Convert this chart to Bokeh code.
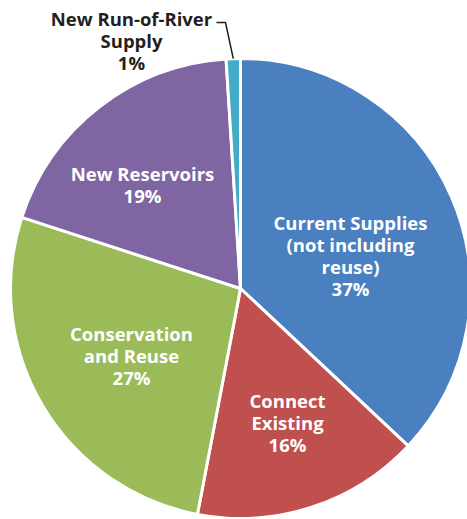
import math
from bokeh.plotting import figure
from bokeh.models import Range1d, ColumnDataSource
from bokeh.core.properties import value
from bokeh.embed import file_html
from bokeh.resources import INLINE

# ---- data ----
categories = ["Current Supplies\n(not including\nreuse)", "Connect\nExisting",
              "Conservation\nand Reuse", "New Reservoirs", "New Run-of-River\nSupply"]
percents = [37, 16, 27, 19, 1]
colors = ["#4A80C0", "#C0504D", "#9BBB59", "#7F65A2", "#43AACA"]

# ---- layout (picture pixels) ----
W, H = 467, 519
CX, CY, R = 240, 288, 230
label_px = [(350, 255), (287, 422), (131, 355), (142, 184), (131, 40)]
label_colors = ["white", "white", "white", "white", "#231F20"]
leader_px = [(216, 22), (225, 22)]

def tx(px):
    return (px - CX) / R

def ty(py):
    return (CY - py) / R

total = sum(percents)
starts, ends = [], []
cum = 0.0
for v in percents:
    starts.append(math.pi / 2 - 2 * math.pi * cum / total)
    cum += v
    ends.append(math.pi / 2 - 2 * math.pi * cum / total)

p = figure(width=W, height=H, output_backend="svg", toolbar_location=None,
           x_range=Range1d(tx(0), tx(W)), y_range=Range1d(ty(H), ty(0)),
           x_axis_type=None, y_axis_type=None, min_border=0)
p.grid.visible = False
p.outline_line_color = None
p.background_fill_color = "white"
p.border_fill_color = "white"

src = ColumnDataSource(dict(start=starts, end=ends, color=colors))
p.wedge(x=0, y=0, radius=1.0, start_angle="start", end_angle="end", direction="clock",
        fill_color="color", line_color="white", line_width=3, source=src)

texts = [f"{c}\n{v}%" for c, v in zip(categories, percents)]
tsrc = ColumnDataSource(dict(x=[tx(a) for a, b in label_px], y=[ty(b) for a, b in label_px],
                             text=texts, color=label_colors))
p.text(x="x", y="y", text="text", source=tsrc, text_color="color",
       text_font=value("Open Sans"), text_font_style="bold", text_font_size="18.5px",
       text_align="center", text_baseline="middle", text_line_height=0.88)

# leader line for small slice: ends at the pie edge at the slice's mid-angle
mid = (starts[-1] + ends[-1]) / 2
lx = [tx(leader_px[0][0]), tx(leader_px[1][0]), math.cos(mid) * 1.0]
ly = [ty(leader_px[0][1]), ty(leader_px[1][1]), math.sin(mid) * 1.0]
p.line(lx, ly, line_color="#231F20", line_width=1.5)

open("out.html", "w").write(file_html(p, INLINE))
